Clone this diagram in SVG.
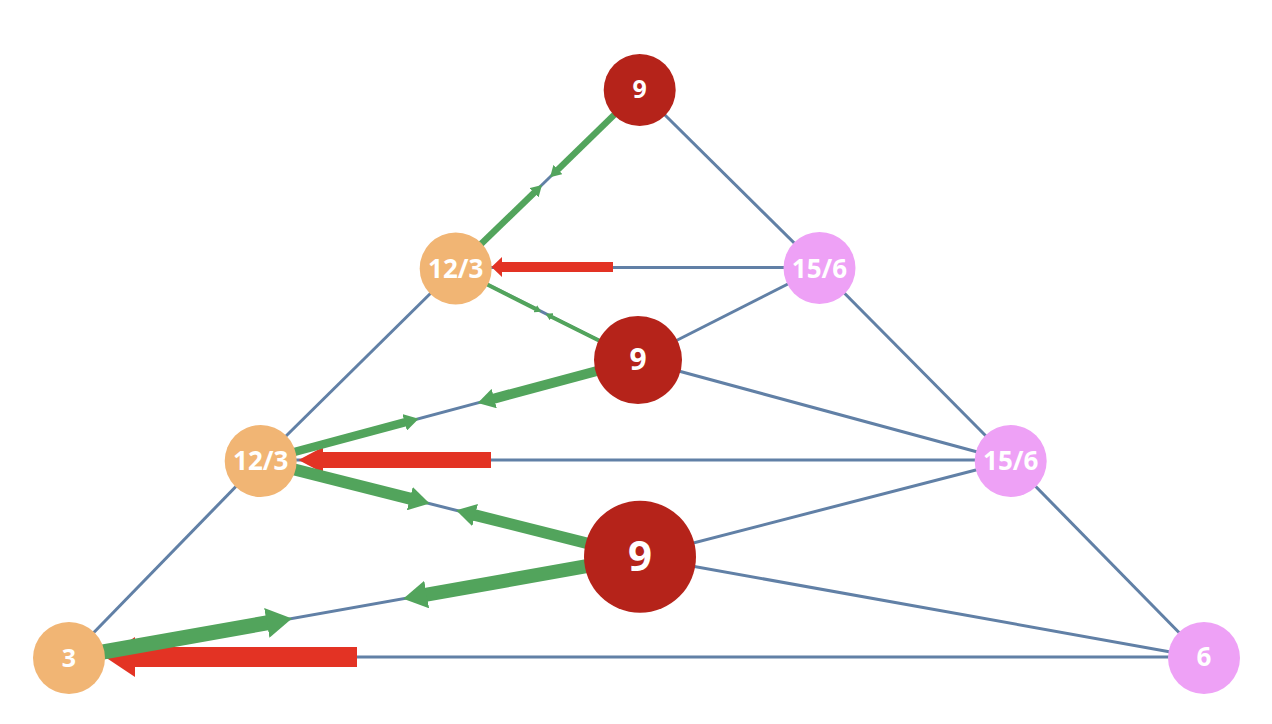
<svg xmlns="http://www.w3.org/2000/svg" width="1272" height="724" viewBox="0 0 1272 724">
<style>
.edge{stroke:#6180A6;stroke-width:3;fill:none}
.flow{stroke:#52A45C;fill:none;marker-end:url(#gh)}
.red{fill:#E33324}
.lbl{font-family:"Open Sans","Noto Sans","Liberation Sans",sans-serif;font-weight:bold;fill:#FFFFFF;text-anchor:middle}
.n9{fill:#B5231A}
.no{fill:#F1B574}
.np{fill:#EEA1F6}
</style>
<defs>
<marker id="gh" viewBox="0 0 17 20" markerWidth="1.7" markerHeight="2" refX="1" refY="10" orient="auto" markerUnits="strokeWidth">
<path d="M0,0 L17,10 L0,20 z" fill="#52A45C"/>
</marker>
</defs>
<rect width="1272" height="724" fill="#FFFFFF"/>
<g id="connectors">
<g id="edges">
<line class="edge" x1="639.7" y1="90" x2="455.7" y2="268.5"/>
<line class="edge" x1="639.7" y1="90" x2="819.5" y2="268"/>
<line class="edge" x1="455.7" y1="267.5" x2="819.5" y2="267.5"/>
<line class="edge" x1="455.7" y1="268.5" x2="260.7" y2="461"/>
<line class="edge" x1="455.7" y1="268.5" x2="638" y2="360"/>
<line class="edge" x1="819.5" y1="268" x2="638" y2="360"/>
<line class="edge" x1="819.5" y1="268" x2="1010.7" y2="461"/>
<line class="edge" x1="638" y1="360" x2="260.7" y2="461"/>
<line class="edge" x1="638" y1="360" x2="1010.7" y2="461"/>
<line class="edge" x1="260.7" y1="461" x2="69" y2="658"/>
<line class="edge" x1="260.7" y1="460" x2="1010.7" y2="460"/>
<line class="edge" x1="260.7" y1="461" x2="640" y2="556.7"/>
<line class="edge" x1="1010.7" y1="461" x2="640" y2="556.7"/>
<line class="edge" x1="1010.7" y1="461" x2="1204" y2="658"/>
<line class="edge" x1="640" y1="556.7" x2="69" y2="658"/>
<line class="edge" x1="640" y1="556.7" x2="1204" y2="658"/>
<line class="edge" x1="69" y1="657" x2="1204" y2="657"/>
</g>
<g id="red-arrows">
<polygon class="red" points="613,262 502,262 502,257 491.5,267 502,277 502,272 613,272"/>
<polygon class="red" points="491,452 323,452 323,447 298.5,460 323,473 323,468 491,468"/>
<polygon class="red" points="357,647 135,647 135,637 105,657 135,677 135,667 357,667"/>
</g>
<g id="green-flows">
<line class="flow" stroke-width="6.5" x1="639.7" y1="90" x2="557.5" y2="170"/>
<line class="flow" stroke-width="6.5" x1="455.7" y1="268.5" x2="534.5" y2="192.3"/>
<line class="flow" stroke-width="4" x1="455.7" y1="268.5" x2="535.6" y2="308.9"/>
<line class="flow" stroke-width="4" x1="638" y1="360" x2="551.3" y2="316.7"/>
<line class="flow" stroke-width="10" x1="638" y1="360" x2="493.2" y2="398.8"/>
<line class="flow" stroke-width="8.5" x1="260.7" y1="461" x2="405.5" y2="422.2"/>
<line class="flow" stroke-width="12" x1="260.7" y1="461" x2="411" y2="498.9"/>
<line class="flow" stroke-width="11.5" x1="640" y1="556.7" x2="474" y2="514.8"/>
<line class="flow" stroke-width="15" x1="69" y1="658" x2="268.3" y2="622.6"/>
<line class="flow" stroke-width="14" x1="640" y1="556.7" x2="425.3" y2="594.8"/>
</g>
</g>
<g id="node-top9"><circle class="n9" cx="639.7" cy="90" r="36"/><text class="lbl" x="639.7" y="97.5" font-size="25">9</text></g>
<g id="node-b123"><circle class="no" cx="455.7" cy="268.5" r="36"/><text class="lbl" x="455.7" y="278.3" font-size="26">12/3</text></g>
<g id="node-c156"><circle class="np" cx="819.5" cy="268" r="36"/><text class="lbl" x="819.5" y="278" font-size="26">15/6</text></g>
<g id="node-mid9"><circle class="n9" cx="638" cy="360" r="44"/><text class="lbl" x="638" y="370" font-size="30">9</text></g>
<g id="node-e123"><circle class="no" cx="260.7" cy="461" r="36"/><text class="lbl" x="260.7" y="470" font-size="26">12/3</text></g>
<g id="node-f156"><circle class="np" cx="1010.7" cy="461" r="36"/><text class="lbl" x="1010.7" y="470" font-size="26">15/6</text></g>
<g id="node-big9"><circle class="n9" cx="640" cy="556.7" r="56"/><text class="lbl" x="640" y="570.5" font-size="42">9</text></g>
<g id="node-h3"><circle class="no" cx="69" cy="658" r="36"/><text class="lbl" x="69" y="666.5" font-size="25">3</text></g>
<g id="node-i6"><circle class="np" cx="1204" cy="658" r="36"/><text class="lbl" x="1204" y="666" font-size="26">6</text></g>
</svg>
